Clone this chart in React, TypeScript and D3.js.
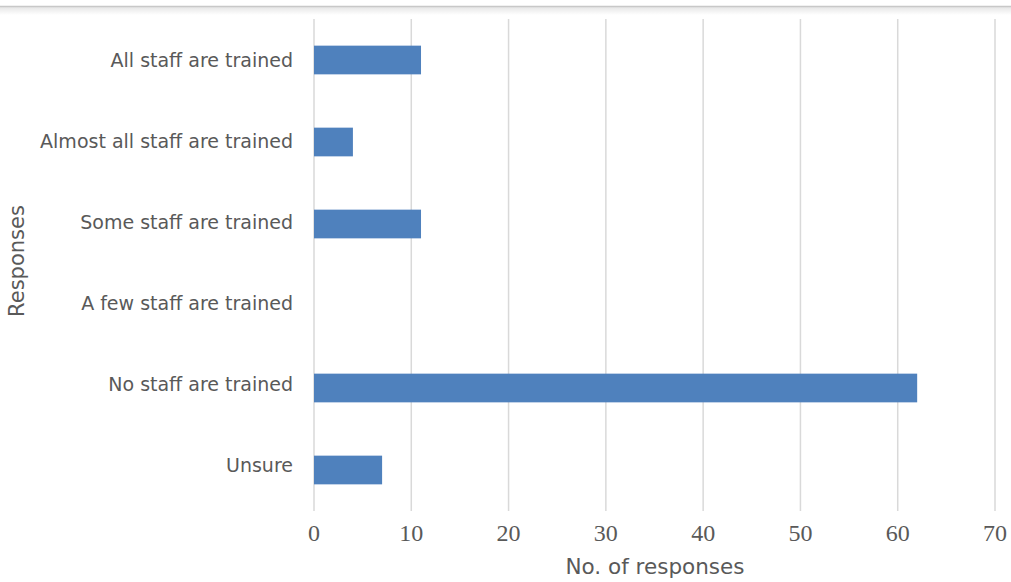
import React from "react";
import * as d3 from "d3";

const categories = [
  "All staff are trained",
  "Almost all staff are trained",
  "Some staff are trained",
  "A few staff are trained",
  "No staff are trained",
  "Unsure",
];
const counts = [11, 4, 11, 0, 62, 7];
const xTicks = [0, 10, 20, 30, 40, 50, 60, 70];

const W = 1011;
const H = 582;
const left = 314;
const right = 995;
const top = 19;
const bottom = 511;

export default function App() {
  const x = d3.scaleLinear().domain([0, 70]).range([left, right]);
  const y = d3
    .scaleBand<string>()
    .domain(categories)
    .range([top, bottom])
    .paddingInner(0.65)
    .paddingOuter(0.325);
  // category labels sit on a slightly tighter pitch than the bars
  const yLabel = d3.scalePoint<string>().domain(categories).range([60, 465]);

  return (
    <svg
      width={W}
      height={H}
      style={{ position: "absolute", left: 0, top: 0, background: "#fff" }}
    >
      <defs>
        <linearGradient id="topShade" x1="0" y1="0" x2="0" y2="1">
          <stop offset="0" stopColor="#e6e6e6" />
          <stop offset="1" stopColor="#ffffff" />
        </linearGradient>
      </defs>
      <rect x={0} y={7} width={W} height={8} fill="url(#topShade)" />
      <line x1={0} x2={W} y1={6.5} y2={6.5} stroke="#c8c8c8" strokeWidth={1.5} />

      {xTicks.map((t) => (
        <line
          key={t}
          x1={x(t)}
          x2={x(t)}
          y1={top}
          y2={bottom}
          stroke="#d9d9d9"
          strokeWidth={1.5}
        />
      ))}

      {categories.map((c, i) => (
        <rect
          key={c}
          x={x(0)}
          y={y(c)}
          width={x(counts[i]) - x(0)}
          height={y.bandwidth()}
          fill="#4f81bd"
        />
      ))}

      {categories.map((c) => (
        <text
          key={c}
          x={293}
          y={yLabel(c)}
          textAnchor="end"
          dominantBaseline="central"
          fontFamily="'DejaVu Sans', sans-serif"
          fontSize={19}
          fill="#595959"
        >
          {c}
        </text>
      ))}

      {xTicks.map((t) => (
        <text
          key={t}
          x={x(t)}
          y={541}
          textAnchor="middle"
          fontFamily="'Liberation Serif', serif"
          fontSize={24}
          fill="#595959"
        >
          {t}
        </text>
      ))}

      <text
        x={655}
        y={574}
        textAnchor="middle"
        fontFamily="'DejaVu Sans', sans-serif"
        fontSize={21.5}
        fill="#595959"
      >
        No. of responses
      </text>
      <text
        transform={`translate(24, 261) rotate(-90)`}
        textAnchor="middle"
        fontFamily="'DejaVu Sans', sans-serif"
        fontSize={21}
        fill="#595959"
      >
        Responses
      </text>
    </svg>
  );
}
